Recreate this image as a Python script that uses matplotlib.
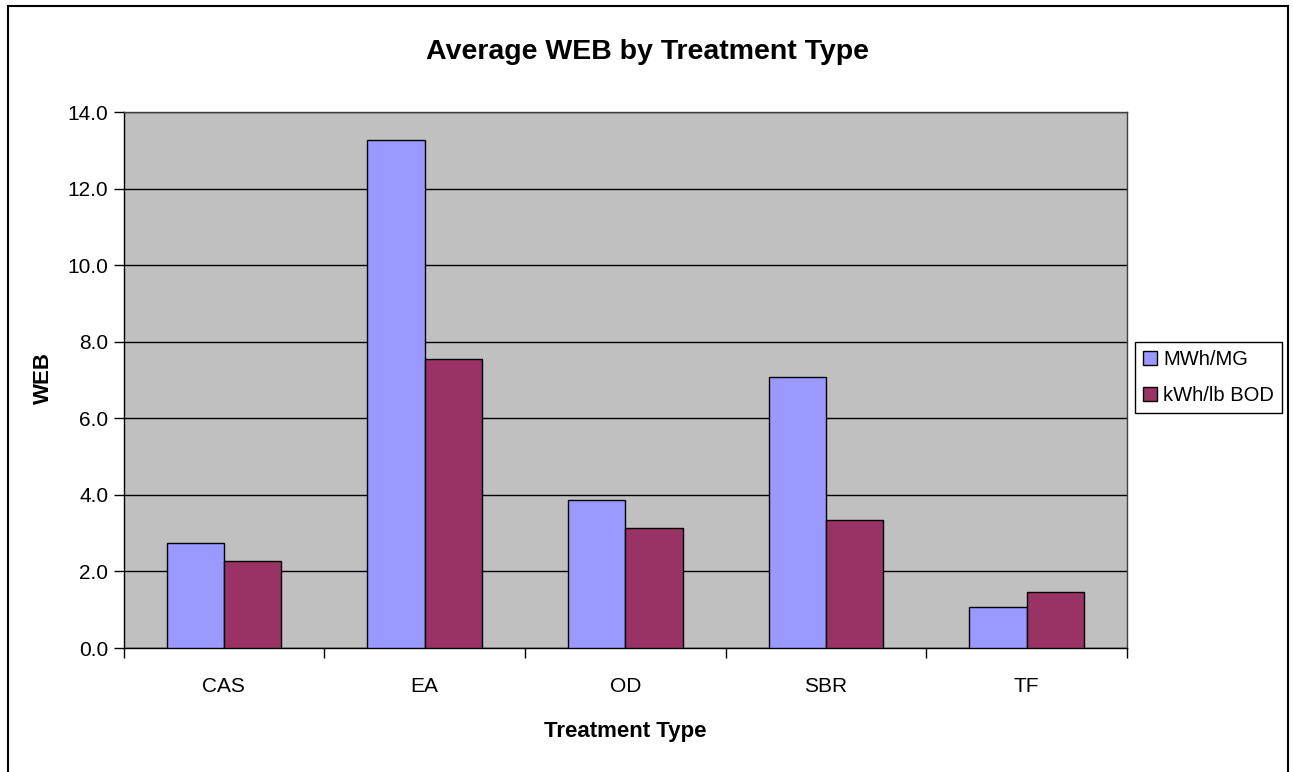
import numpy as np
import matplotlib
matplotlib.use("Agg")
import matplotlib.pyplot as plt
from matplotlib.patches import Rectangle

plt.rcParams['font.family'] = ['Liberation Sans', 'DejaVu Sans']

categories = ["CAS", "EA", "OD", "SBR", "TF"]
mwh_mg = [2.73, 13.26, 3.87, 7.07, 1.07]
kwh_lb_bod = [2.26, 7.55, 3.13, 3.34, 1.47]
series_names = ["MWh/MG", "kWh/lb BOD"]
yticks = [0, 2, 4, 6, 8, 10, 12, 14]

W, H = 1293, 772
fig = plt.figure(figsize=(W/100, H/100), dpi=100)
ax = fig.add_axes([123.5/W, 1-648/H, 1003.5/W, 536/H])
ax.set_facecolor("#C0C0C0")

x = np.arange(len(categories))
w = 1/3.5
ax.bar(x - w/2, mwh_mg, w, color="#9999FF", edgecolor="black", linewidth=1, label=series_names[0], zorder=3)
ax.bar(x + w/2, kwh_lb_bod, w, color="#993366", edgecolor="black", linewidth=1, label=series_names[1], zorder=3)

ax.set_xlim(-0.5, len(categories) - 0.5)
ax.set_ylim(0, 14)
ax.set_yticks(yticks)
ax.set_yticklabels(["%.1f" % v for v in yticks], fontsize=15)
ax.yaxis.grid(True, color="black", linewidth=1, zorder=1)
ax.set_axisbelow(True)

# category boundaries get the ticks, names sit between them
ax.set_xticks(np.arange(-0.5, len(categories)))
ax.set_xticklabels([])
ax.set_xticks(x, minor=True)
ax.set_xticklabels(categories, minor=True, fontsize=15)
ax.tick_params(axis="x", which="minor", length=0, pad=21)
ax.tick_params(axis="x", which="major", length=7, direction="out", width=1)
ax.tick_params(axis="y", length=7, direction="out", width=1, pad=4)
for s in ax.spines.values():
    s.set_color("black")
    s.set_linewidth(1)
ax.spines["top"].set_color("#404040")
ax.spines["right"].set_color("#404040")

fig.text(647/W, 1-52/H, "Average WEB by Treatment Type", ha="center", va="center",
         fontsize=20.5, fontweight="bold")
fig.text(43/W, 1-378/H, "WEB", ha="center", va="center", rotation=90,
         fontsize=16, fontweight="bold")
fig.text(625/W, 1-731/H, "Treatment Type", ha="center", va="center",
         fontsize=16, fontweight="bold")

leg = fig.legend(loc="center left", bbox_to_anchor=(1135/W, 1-377.5/H), fontsize=14.5,
                 frameon=True, fancybox=False, edgecolor="black", framealpha=1,
                 handlelength=0.7, handleheight=0.7, handletextpad=0.3,
                 labelspacing=0.85, borderpad=0.4, borderaxespad=0)
leg.get_frame().set_linewidth(1)

fig.patches.append(Rectangle((8/W, -0.1), 1279.5/W, 1.1 - 6/H, transform=fig.transFigure,
                             fill=False, edgecolor="black", linewidth=1.5))

fig.savefig("out.png", dpi=100)
